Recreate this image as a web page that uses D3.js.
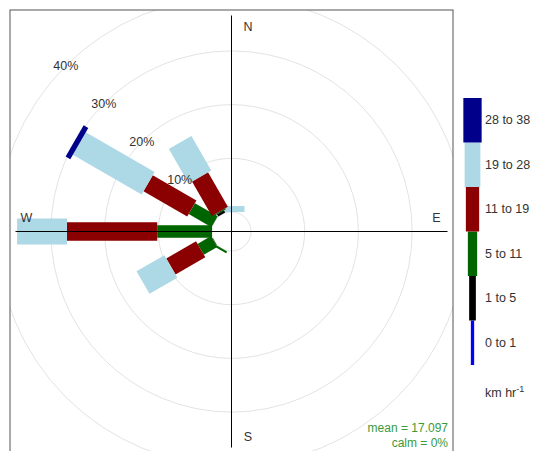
<!DOCTYPE html>
<html lang="en">
<head>
    <meta charset="UTF-8">
    <title>Wind rose</title>
    <script src="https://d3js.org/d3.v7.min.js"></script>
    <style>
        body {
            margin: 0;
            background: #fff;
            font-family: 'Liberation Sans', Arial, sans-serif;
        }
        .grid { fill: none; stroke: #e3e3e3; stroke-width: 1; }
        .axis-line { stroke: #000; stroke-width: 1; }
        .lab { font-size: 12.5px; fill: #333; }
        .stats { font-size: 12px; fill: #3a9a3a; text-anchor: end; }
    </style>
</head>
<body>
    <svg id="rose" width="540" height="451"></svg>

    <script>
        // wind directions (degrees) and speed bins
        const directions = [0, 30, 60, 90, 120, 150, 180, 210, 240, 270, 300, 330];
        const speedBins = ["0 to 1", "1 to 5", "5 to 11", "11 to 19", "19 to 28", "28 to 38"];
        const binColours = ["#0000ff", "#000000", "#006400", "#8b0000", "#add8e6", "#00008b"];

        // % of time per direction, one array per speed bin
        const pct0to1   = [0,   0, 0, 0, 0, 0, 0, 0,   0,   0,    0,    0];
        const pct1to5   = [0,   0, 0, 0, 0, 0, 0, 0,   0.1, 0,    0,    0.5];
        const pct5to11  = [0,   0, 0, 0, 0, 0, 0, 0.4, 2.9, 10.2, 4.9,  0.2];
        const pct11to19 = [0,   0, 0, 0, 0, 0, 0, 0,   6.4, 16.8, 9.4,  7.4];
        const pct19to28 = [1.1, 0, 0, 0, 0, 0, 0, 0,   6.0, 9.3,  14.8, 7.4];
        const pct28to38 = [0,   0, 0, 0, 0, 0, 0, 0,   0,   0,    1.0,  0];
        const series = [pct0to1, pct1to5, pct5to11, pct11to19, pct19to28, pct28to38];

        const gridTicks = [10, 20, 30, 40];
        const compass = [["N", 0], ["E", 90], ["S", 180], ["W", 270]];
        const meanSpeed = "17.097";
        const calmPct = "0%";

        // layout
        const panel = { x: 10, y: 10, size: 443 };
        const cx = panel.x + panel.size / 2,
              cy = panel.y + panel.size / 2;
        const barWidths = [4, 8, 12.5, 18.5, 26, 36];
        const keyWidths = [3.3, 6.7, 9.3, 13.3, 15.7, 18.3];

        const r = d3.scaleLinear().domain([0, 40]).range([19.5, 234.3]);
        const px = (deg, rad) => cx + rad * Math.sin(deg * Math.PI / 180);
        const py = (deg, rad) => cy - rad * Math.cos(deg * Math.PI / 180);

        const svg = d3.select("#rose");

        svg.append("clipPath").attr("id", "clip")
           .append("rect")
           .attr("x", panel.x).attr("y", panel.y)
           .attr("width", panel.size).attr("height", panel.size);

        const plot = svg.append("g").attr("clip-path", "url(#clip)");

        // grid circles (including the calm circle at 0)
        plot.selectAll(".grid")
            .data([0].concat(gridTicks))
            .enter()
            .append("circle")
            .attr("class", "grid")
            .attr("cx", cx).attr("cy", cy)
            .attr("r", d => r(d));

        // stacked paddles
        directions.forEach((dir, i) => {
            let cum = 0;
            series.forEach((vals, b) => {
                const v = vals[i];
                if (v <= 0) { return; }
                const r1 = r(cum), r2 = r(cum + v);
                cum += v;
                plot.append("line")
                    .attr("x1", px(dir, r1)).attr("y1", py(dir, r1))
                    .attr("x2", px(dir, r2)).attr("y2", py(dir, r2))
                    .attr("stroke", binColours[b])
                    .attr("stroke-width", barWidths[b])
                    .attr("stroke-linecap", "butt");
            });
        });

        // axis cross
        plot.append("line").attr("class", "axis-line")
            .attr("x1", cx).attr("x2", cx).attr("y1", cy - 216).attr("y2", cy + 216);
        plot.append("line").attr("class", "axis-line")
            .attr("x1", cx - 216).attr("x2", cx + 216).attr("y1", cy).attr("y2", cy);

        // percentage labels along 315 degrees
        plot.selectAll(".pct")
            .data(gridTicks)
            .enter()
            .append("text")
            .attr("class", "lab")
            .attr("x", d => px(315, r(d)))
            .attr("y", d => py(315, r(d)))
            .attr("text-anchor", "middle")
            .attr("dominant-baseline", "central")
            .text(d => d + "%");

        // compass letters, nudged off the axis lines
        plot.selectAll(".cmp")
            .data(compass)
            .enter()
            .append("text")
            .attr("class", "lab")
            .attr("x", d => px(d[1], 205) + (d[1] % 180 === 0 ? 16.5 : 0))
            .attr("y", d => py(d[1], 205) + (d[1] % 180 === 0 ? 0 : -14))
            .attr("text-anchor", "middle")
            .attr("dominant-baseline", "central")
            .text(d => d[0]);

        plot.append("text").attr("class", "stats")
            .attr("x", 448).attr("y", 432)
            .text("mean = " + meanSpeed);
        plot.append("text").attr("class", "stats")
            .attr("x", 448).attr("y", 447)
            .text("calm = " + calmPct);

        // panel border
        svg.append("rect")
           .attr("x", panel.x).attr("y", panel.y)
           .attr("width", panel.size).attr("height", panel.size)
           .attr("fill", "none").attr("stroke", "#555");

        // colour key
        const key = d3.scaleBand()
                      .domain(speedBins.slice().reverse())
                      .range([98, 365]);
        const keyX = 472.5;

        svg.selectAll(".key")
           .data(speedBins)
           .enter()
           .append("rect")
           .attr("x", (d, i) => keyX - keyWidths[i] / 2)
           .attr("y", d => key(d))
           .attr("width", (d, i) => keyWidths[i])
           .attr("height", key.bandwidth())
           .attr("fill", (d, i) => binColours[i]);

        svg.selectAll(".keylab")
           .data(speedBins)
           .enter()
           .append("text")
           .attr("class", "lab")
           .attr("x", 485)
           .attr("y", d => key(d) + key.bandwidth() / 2)
           .attr("dominant-baseline", "central")
           .text(d => d);

        const unit = svg.append("text").attr("class", "lab")
                        .attr("x", 485).attr("y", 397);
        unit.append("tspan").text("km hr");
        unit.append("tspan").attr("dy", -5).style("font-size", "9px").text("-1");
    </script>
</body>
</html>
